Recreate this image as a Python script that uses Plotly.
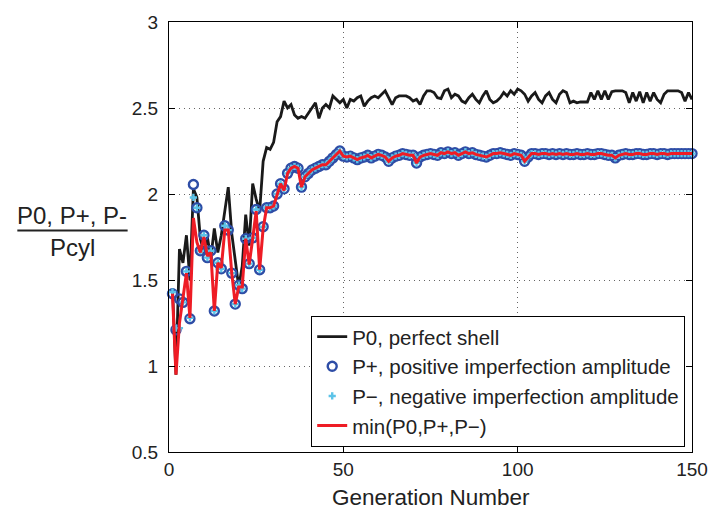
import plotly.graph_objects as go

generations = list(range(1, 151))

p0_perfect = [
    1.45, 0.95, 1.68, 1.60, 1.76, 1.50, 2.03, 1.98, 1.74, 1.66,
    1.75, 1.63, 1.80, 1.66, 1.76, 1.90, 2.04, 1.77, 1.62, 1.46,
    1.58, 1.88, 1.70, 2.06, 1.97, 1.90, 2.19, 2.27, 2.26, 2.30,
    2.42, 2.45, 2.54, 2.50, 2.52, 2.46, 2.44, 2.45, 2.44, 2.47,
    2.50, 2.53, 2.44, 2.50, 2.52, 2.50, 2.57, 2.55, 2.53, 2.55,
    2.50, 2.55, 2.54, 2.56, 2.57, 2.51, 2.54, 2.56, 2.57, 2.56,
    2.58, 2.60, 2.56, 2.52, 2.56, 2.57, 2.57, 2.57, 2.56, 2.54,
    2.55, 2.52, 2.57, 2.60, 2.60, 2.59, 2.56, 2.555, 2.60, 2.61,
    2.56, 2.58, 2.57, 2.54, 2.53, 2.56, 2.58, 2.55, 2.53, 2.57,
    2.60, 2.55, 2.53, 2.54, 2.56, 2.59, 2.57, 2.60, 2.58, 2.61,
    2.60, 2.58, 2.54, 2.57, 2.59, 2.55, 2.53, 2.57, 2.59, 2.55,
    2.53, 2.58, 2.60, 2.59, 2.53, 2.54, 2.53, 2.535, 2.535, 2.535,
    2.59, 2.55, 2.60, 2.55, 2.60, 2.55, 2.595, 2.60, 2.60, 2.60,
    2.59, 2.53, 2.59, 2.54, 2.595, 2.53, 2.59, 2.54, 2.59, 2.55,
    2.53, 2.58, 2.60, 2.60, 2.60, 2.60, 2.59, 2.54, 2.59, 2.55,
]

p_plus = [
    1.42, 1.21, 1.39, 1.37, 1.55, 1.275, 2.055, 1.92, 1.67, 1.76,
    1.63, 1.67, 1.32, 1.60, 1.565, 1.815, 1.79, 1.54, 1.36, 1.47,
    1.45, 1.74, 1.595, 1.745, 1.91, 1.56, 1.81, 1.92, 1.92, 1.93,
    2.00, 2.06, 2.03, 2.12, 2.15, 2.16, 2.15, 2.04, 2.10, 2.12,
    2.14, 2.15, 2.16, 2.17, 2.17, 2.19, 2.21, 2.23, 2.25, 2.22,
    2.215, 2.22, 2.21, 2.20, 2.21, 2.215, 2.225, 2.21, 2.22, 2.23,
    2.225, 2.215, 2.19, 2.21, 2.22, 2.225, 2.235, 2.23, 2.225, 2.225,
    2.18, 2.215, 2.225, 2.23, 2.235, 2.23, 2.225, 2.24, 2.235, 2.245,
    2.235, 2.24, 2.225, 2.235, 2.245, 2.235, 2.24, 2.23, 2.225, 2.22,
    2.215, 2.225, 2.235, 2.235, 2.24, 2.235, 2.23, 2.225, 2.235, 2.23,
    2.225, 2.19, 2.215, 2.235, 2.235, 2.23, 2.235, 2.235, 2.23, 2.235,
    2.23, 2.235, 2.23, 2.235, 2.23, 2.23, 2.235, 2.23, 2.23, 2.235,
    2.23, 2.23, 2.235, 2.235, 2.23, 2.225, 2.225, 2.21, 2.225, 2.23,
    2.235, 2.23, 2.23, 2.235, 2.235, 2.23, 2.23, 2.235, 2.235, 2.23,
    2.235, 2.235, 2.23, 2.235, 2.235, 2.235, 2.235, 2.235, 2.235, 2.235,
]

p_minus = [
    1.43, 1.22, 1.22, 1.37, 1.55, 1.28, 1.98, 1.92, 1.67, 1.76,
    1.63, 1.67, 1.32, 1.60, 1.565, 1.815, 1.79, 1.54, 1.36, 1.47,
    1.45, 1.74, 1.595, 1.745, 1.91, 1.56, 1.81, 1.92, 1.92, 1.93,
    2.00, 2.06, 2.03, 2.12, 2.15, 2.16, 2.15, 2.04, 2.10, 2.12,
    2.14, 2.15, 2.16, 2.17, 2.17, 2.19, 2.21, 2.23, 2.25, 2.22,
    2.215, 2.22, 2.21, 2.20, 2.21, 2.215, 2.225, 2.21, 2.22, 2.23,
    2.225, 2.215, 2.19, 2.21, 2.22, 2.225, 2.235, 2.23, 2.225, 2.225,
    2.18, 2.215, 2.225, 2.23, 2.235, 2.23, 2.225, 2.24, 2.235, 2.245,
    2.235, 2.24, 2.225, 2.235, 2.245, 2.235, 2.24, 2.23, 2.225, 2.22,
    2.215, 2.225, 2.235, 2.235, 2.24, 2.235, 2.23, 2.225, 2.235, 2.23,
    2.225, 2.19, 2.215, 2.235, 2.235, 2.23, 2.235, 2.235, 2.23, 2.235,
    2.23, 2.235, 2.23, 2.235, 2.23, 2.23, 2.235, 2.23, 2.23, 2.235,
    2.23, 2.23, 2.235, 2.235, 2.23, 2.225, 2.225, 2.21, 2.225, 2.23,
    2.235, 2.23, 2.23, 2.235, 2.235, 2.23, 2.23, 2.235, 2.235, 2.23,
    2.235, 2.235, 2.23, 2.235, 2.235, 2.235, 2.235, 2.235, 2.235, 2.235,
]

p_min = [
    1.42, 0.95, 1.25, 1.40, 1.54, 1.28, 1.86, 1.72, 1.66, 1.75,
    1.64, 1.66, 1.32, 1.60, 1.57, 1.79, 1.79, 1.54, 1.36, 1.46,
    1.46, 1.74, 1.59, 1.74, 1.90, 1.56, 1.80, 1.92, 1.92, 1.93,
    2.00, 2.06, 2.02, 2.12, 2.15, 2.16, 2.15, 2.04, 2.10, 2.12,
    2.14, 2.15, 2.16, 2.17, 2.17, 2.19, 2.21, 2.23, 2.25, 2.22,
    2.215, 2.22, 2.21, 2.20, 2.21, 2.215, 2.225, 2.21, 2.22, 2.23,
    2.225, 2.215, 2.19, 2.21, 2.22, 2.225, 2.235, 2.23, 2.225, 2.225,
    2.18, 2.215, 2.225, 2.23, 2.235, 2.23, 2.225, 2.24, 2.235, 2.245,
    2.235, 2.24, 2.225, 2.235, 2.245, 2.235, 2.24, 2.23, 2.225, 2.22,
    2.215, 2.225, 2.235, 2.235, 2.24, 2.235, 2.23, 2.225, 2.235, 2.23,
    2.225, 2.19, 2.215, 2.235, 2.235, 2.23, 2.235, 2.235, 2.23, 2.235,
    2.23, 2.235, 2.23, 2.235, 2.23, 2.23, 2.235, 2.23, 2.23, 2.235,
    2.23, 2.23, 2.235, 2.235, 2.23, 2.225, 2.225, 2.21, 2.225, 2.23,
    2.235, 2.23, 2.23, 2.235, 2.235, 2.23, 2.23, 2.235, 2.235, 2.23,
    2.235, 2.235, 2.23, 2.235, 2.235, 2.235, 2.235, 2.235, 2.235, 2.235,
]

x_ticks = [0, 50, 100, 150]
y_ticks = [0.5, 1, 1.5, 2, 2.5, 3]
y_tick_labels = ["0.5", "1", "1.5", "2", "2.5", "3"]

FONT = "Liberation Sans, Arial, sans-serif"
BLUE = "#2E4DA6"
CYAN = "#5CC3E8"
RED = "#EE1C25"
BLACK = "#1A1A1A"

fig = go.Figure()
fig.add_trace(go.Scatter(
    x=generations, y=p0_perfect, mode="lines", name="P0, perfect shell",
    line=dict(color=BLACK, width=2.8),
))
fig.add_trace(go.Scatter(
    x=generations, y=p_plus, mode="markers",
    name="P+, positive imperfection amplitude",
    marker=dict(symbol="circle-open", size=9, color=BLUE, line=dict(width=2.4, color=BLUE)),
    cliponaxis=False,
))
fig.add_trace(go.Scatter(
    x=generations, y=p_minus, mode="markers",
    name="P\u2212, negative imperfection amplitude",
    marker=dict(symbol="cross", size=6, color=CYAN, line=dict(width=0)),
    cliponaxis=False,
))
fig.add_trace(go.Scatter(
    x=generations, y=p_min, mode="lines", name="min(P0,P+,P\u2212)",
    line=dict(color=RED, width=3),
))

axis_common = dict(
    showline=True, linecolor="black", linewidth=1, mirror="ticks",
    ticks="inside", ticklen=6, tickcolor="black", tickwidth=1,
    showgrid=True, gridcolor="#666666", gridwidth=1, griddash="1px,4px",
    zeroline=False, tickfont=dict(family=FONT, size=19, color="#222"),
)

fig.update_xaxes(range=[0, 150], tickvals=x_ticks, ticklabelstandoff=0, **axis_common)
fig.update_yaxes(range=[0.5, 3], tickvals=y_ticks, ticktext=y_tick_labels,
                 ticklabelstandoff=6, **axis_common)

fig.update_layout(
    width=720, height=514,
    margin=dict(l=169, r=20, t=15, b=62),
    paper_bgcolor="white", plot_bgcolor="white",
    font=dict(family=FONT, color="#222"),
    showlegend=True,
    legend=dict(
        x=0.987, y=0.012, xanchor="right", yanchor="bottom",
        bordercolor="black", borderwidth=1, bgcolor="white",
        font=dict(family=FONT, size=20.5, color="#222"),
        tracegroupgap=0, itemwidth=30,
    ),
    annotations=[
        dict(text="Generation Number", x=0.5, y=-0.106, xref="paper", yref="paper",
             xanchor="center", yanchor="middle", showarrow=False,
             font=dict(family=FONT, size=22.5, color="#222")),
        dict(text="P0, P+, P-", x=-0.1846, y=0.550, xref="paper", yref="paper",
             xanchor="center", yanchor="middle", showarrow=False,
             font=dict(family=FONT, size=24, color="#222")),
        dict(text="Pcyl", x=-0.1846, y=0.476, xref="paper", yref="paper",
             xanchor="center", yanchor="middle", showarrow=False,
             font=dict(family=FONT, size=24, color="#222")),
    ],
    shapes=[
        dict(type="line", xref="paper", yref="paper",
             x0=-0.290, x1=-0.0791, y0=0.5149, y1=0.5149,
             line=dict(color="#222", width=2)),
    ],
)

fig.write_html("out.html")
